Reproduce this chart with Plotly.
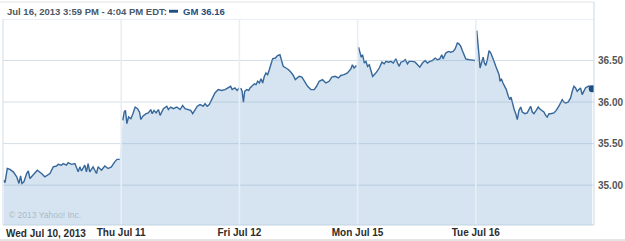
import plotly.graph_objects as go

# ---- data ----
day_labels = ["Wed Jul 10, 2013", "Thu Jul 11", "Fri Jul 12", "Mon Jul 15", "Tue Jul 16"]

wed_t = [0.008,0.017,0.036,0.059,0.087,0.116,0.135,0.149,0.160,0.177,0.200,0.214,0.228,0.256,0.290,0.326,0.354,0.397,0.425,0.453,0.467,0.495,0.509,0.537,0.551,0.580,0.608,0.636,0.650,0.664,0.692,0.706,0.720,0.734,0.762,0.791,0.804,0.833,0.861,0.889,0.917,0.945,0.965,0.987]
wed_p = [35.06,35.03,35.20,35.19,35.16,35.10,35.02,35.11,35.02,35.04,35.14,35.17,35.08,35.12,35.18,35.14,35.10,35.14,35.22,35.23,35.25,35.24,35.26,35.24,35.27,35.25,35.26,35.16,35.22,35.17,35.24,35.16,35.26,35.16,35.22,35.14,35.22,35.18,35.23,35.20,35.22,35.28,35.31,35.31]

thu_t = [0.014,0.025,0.036,0.048,0.062,0.082,0.099,0.118,0.138,0.155,0.166,0.183,0.211,0.230,0.250,0.262,0.278,0.295,0.315,0.329,0.357,0.386,0.399,0.419,0.441,0.470,0.498,0.520,0.540,0.568,0.588,0.605,0.624,0.644,0.667,0.694,0.709,0.728,0.745,0.764,0.793,0.821,0.849,0.878,0.905,0.926,0.939,0.962,0.981,0.998]
thu_p = [35.78,35.88,35.90,35.74,35.82,35.80,35.86,35.94,35.92,35.88,35.79,35.83,35.86,35.87,35.91,35.86,35.90,35.87,35.91,35.84,35.92,35.95,35.91,35.94,35.92,35.94,35.91,35.96,35.92,35.91,35.90,35.86,35.90,35.95,35.97,35.95,35.98,35.95,35.97,36.03,36.11,36.15,36.14,36.15,36.17,36.19,36.15,36.17,36.14,36.17]

fri_t = [0.011,0.023,0.034,0.045,0.062,0.079,0.090,0.107,0.127,0.141,0.155,0.169,0.183,0.197,0.211,0.225,0.239,0.253,0.268,0.281,0.304,0.323,0.343,0.360,0.371,0.394,0.416,0.436,0.456,0.473,0.492,0.506,0.529,0.549,0.577,0.605,0.633,0.653,0.675,0.703,0.732,0.759,0.782,0.810,0.838,0.858,0.886,0.914,0.943,0.956,0.970,0.990]
fri_p = [36.17,36.13,36.00,36.13,36.15,36.14,36.17,36.19,36.22,36.21,36.25,36.23,36.28,36.23,36.31,36.35,36.33,36.39,36.47,36.52,36.53,36.56,36.57,36.49,36.43,36.41,36.39,36.36,36.32,36.27,36.29,36.31,36.30,36.26,36.19,36.15,36.15,36.19,36.25,36.27,36.23,36.25,36.30,36.31,36.29,36.32,36.33,36.35,36.40,36.45,36.41,36.44]

mon_t = [0.008,0.020,0.031,0.042,0.057,0.071,0.084,0.099,0.113,0.127,0.141,0.160,0.183,0.206,0.225,0.240,0.262,0.282,0.301,0.324,0.338,0.352,0.366,0.386,0.403,0.422,0.436,0.464,0.487,0.506,0.526,0.549,0.571,0.591,0.611,0.633,0.656,0.675,0.695,0.712,0.723,0.746,0.768,0.788,0.808,0.825,0.844,0.858,0.873,0.886,0.901,0.915,0.943,0.970,0.993]
mon_p = [36.66,36.59,36.54,36.57,36.47,36.49,36.43,36.45,36.37,36.31,36.33,36.36,36.41,36.48,36.46,36.49,36.48,36.49,36.47,36.52,36.47,36.43,36.48,36.49,36.51,36.46,36.49,36.49,36.48,36.45,36.42,36.47,36.50,36.47,36.49,36.50,36.53,36.51,36.52,36.57,36.52,36.59,36.61,36.60,36.61,36.64,36.71,36.70,36.67,36.62,36.56,36.52,36.51,36.50,36.50]

tue_t = [0.008,0.017,0.028,0.036,0.051,0.062,0.073,0.084,0.098,0.112,0.127,0.140,0.154,0.169,0.182,0.197,0.205,0.216,0.230,0.247,0.258,0.275,0.287,0.298,0.309,0.323,0.338,0.351,0.365,0.380,0.393,0.416,0.435,0.450,0.464,0.478,0.492,0.511,0.528,0.540,0.557,0.576,0.591,0.604,0.619,0.633,0.661,0.680,0.703,0.717,0.731,0.745,0.759,0.781,0.802,0.816,0.830,0.844,0.858,0.872,0.886,0.900,0.914,0.928,0.951,0.971,0.985]
tue_p = [36.86,36.75,36.55,36.41,36.49,36.54,36.47,36.44,36.51,36.62,36.59,36.53,36.49,36.43,36.37,36.33,36.25,36.28,36.23,36.19,36.15,36.07,36.03,36.06,35.99,35.92,35.86,35.79,35.90,35.94,35.88,35.86,35.87,35.91,35.95,35.88,35.86,35.90,35.94,35.92,35.90,35.88,35.84,35.82,35.86,35.86,35.87,35.90,35.95,35.99,36.03,36.00,35.99,36.00,36.05,36.13,36.19,36.17,36.13,36.15,36.17,36.09,36.14,36.17,36.19,36.19,36.16]

y_ticks = [35.0, 35.5, 36.0, 36.5]
y_tick_labels = ["35.00", "35.50", "36.00", "36.50"]
header_text = "Jul 16, 2013 3:59 PM - 4:04 PM EDT:"
symbol = "GM"
last_price = "36.16"

# ---- build series (days separated by gaps) ----
days_t = [wed_t, thu_t, fri_t, mon_t, tue_t]
days_p = [wed_p, thu_p, fri_p, mon_p, tue_p]
xs, ys = [], []
for i, (tt, pp) in enumerate(zip(days_t, days_p)):
    if i > 0:
        xs.append(None)
        ys.append(None)
    xs += [i + t for t in tt]
    ys += pp

W, H = 625, 241
ML, MR, MT, MB = 3, 31, 19, 16
PW, PH = W - ML - MR, H - MT - MB


def px_x(x):
    return (x - ML) / PW


def px_y(y):
    return (H - MB - y) / PH


YMIN, YMAX = 34.52, 37.0
LINE = "#36679a"
FILL = "#d5e4f0"
FONT = "Liberation Sans"

fig = go.Figure()
fig.add_trace(go.Scatter(
    x=xs, y=ys, mode="lines", connectgaps=False,
    line=dict(color=LINE, width=1.4),
    fill="tozeroy", fillcolor=FILL, hoverinfo="skip", showlegend=False,
))
fig.add_trace(go.Scatter(
    x=[xs[-1]], y=[ys[-1]], mode="markers",
    marker=dict(color="#1d4c7e", size=7), showlegend=False, hoverinfo="skip",
))

shapes = []
# horizontal grid lines (above the fill)
for v in y_ticks + [37.0]:
    shapes.append(dict(type="line", xref="paper", yref="y", x0=0, x1=1, y0=v, y1=v,
                       line=dict(color="rgba(140,172,200,0.38)", width=1), layer="above"))
# vertical day separators
for d in range(1, 5):
    shapes.append(dict(type="line", xref="x", yref="paper", x0=d, x1=d, y0=0, y1=1,
                       line=dict(color="#e8eef4", width=1.6), layer="above"))
# plot frame
shapes.append(dict(type="line", xref="paper", yref="paper", x0=0, x1=0, y0=0, y1=1,
                   line=dict(color="#d3dde6", width=1), layer="above"))
shapes.append(dict(type="line", xref="paper", yref="paper", x0=1, x1=1, y0=0, y1=px_y(2),
                   line=dict(color="#c9d8e4", width=1), layer="above"))
shapes.append(dict(type="line", xref="paper", yref="paper", x0=0, x1=1, y0=0, y1=0,
                   line=dict(color="#c2d4e2", width=1.2), layer="above"))
# header top line and bottom line
shapes.append(dict(type="line", xref="paper", yref="paper", x0=px_x(0), x1=1, y0=px_y(2), y1=px_y(2),
                   line=dict(color="#e2e2e2", width=1)))
shapes.append(dict(type="line", xref="paper", yref="paper", x0=px_x(0), x1=px_x(625), y0=px_y(240), y1=px_y(240),
                   line=dict(color="#dcdcdc", width=1.5)))
# legend swatch
shapes.append(dict(type="rect", xref="paper", yref="paper", x0=px_x(169), x1=px_x(178),
                   y0=px_y(12.7), y1=px_y(9.8), line=dict(width=0), fillcolor="#1f4f82"))

annotations = [
    dict(x=px_x(5), y=px_y(11), xref="paper", yref="paper", text=header_text, showarrow=False,
         xanchor="left", yanchor="middle", font=dict(family=FONT, size=9.5, color="#4b5866", weight="bold")),
    dict(x=px_x(181), y=px_y(11), xref="paper", yref="paper", text=f"{symbol} {last_price}", showarrow=False,
         xanchor="left", yanchor="middle", font=dict(family=FONT, size=9.5, color="#1f4f82", weight="bold")),
    dict(x=0, y=px_y(233), xref="x", yref="paper", text=day_labels[0], showarrow=False,
         xanchor="left", yanchor="middle", xshift=1,
         font=dict(family=FONT, size=10, color="#2b2b2b", weight="bold")),
    dict(x=px_x(7), y=px_y(215), xref="paper", yref="paper", text="© 2013 Yahoo! Inc.", showarrow=False,
         xanchor="left", yanchor="middle", font=dict(family=FONT, size=8.5, color="rgba(130,148,165,0.55)")),
]

fig.update_layout(
    width=W, height=H,
    margin=dict(l=ML, r=MR, t=MT, b=MB, pad=0),
    paper_bgcolor="white", plot_bgcolor="white",
    shapes=shapes, annotations=annotations,
    xaxis=dict(range=[0, 5], tickvals=[1, 2, 3, 4], ticktext=day_labels[1:],
               showgrid=False, zeroline=False, showline=False, ticks="",
               tickfont=dict(family=FONT, size=10, color="#2b2b2b", weight="bold"),
               fixedrange=True),
    yaxis=dict(range=[YMIN, YMAX], side="right", tickvals=y_ticks, ticktext=y_tick_labels,
               showgrid=False, zeroline=False, showline=False, ticks="",
               ticklabelstandoff=3,
               tickfont=dict(family=FONT, size=10, color="#555555", weight="bold"),
               fixedrange=True),
)

fig.write_html("out.html")
